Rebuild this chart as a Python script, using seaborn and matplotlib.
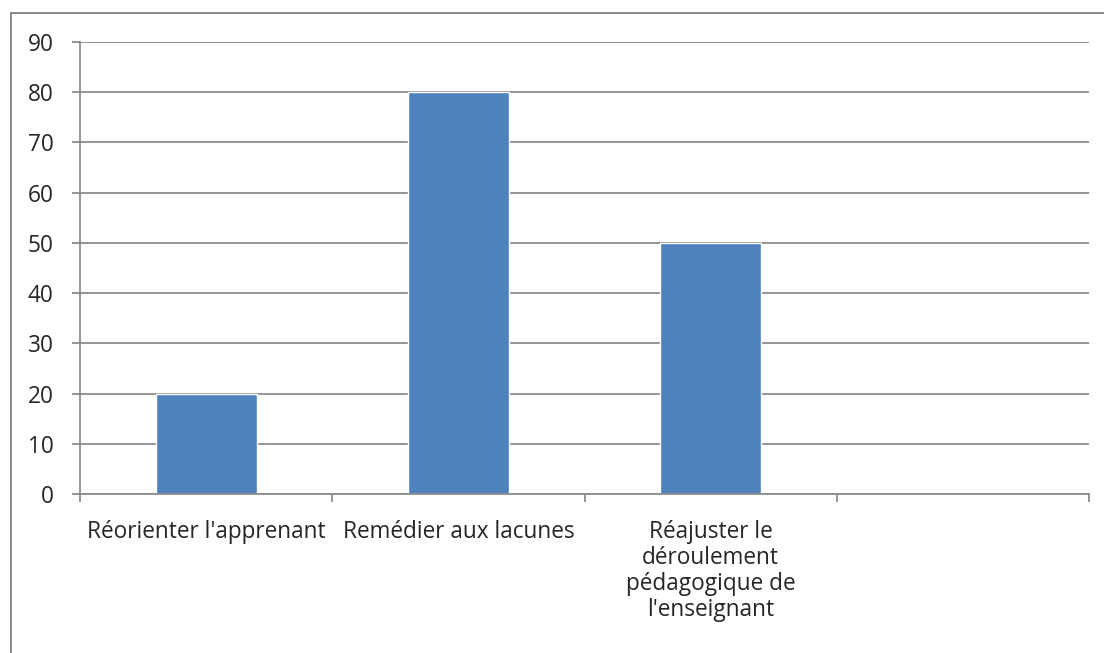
import numpy as np
import pandas as pd
import matplotlib
matplotlib.use("Agg")
import matplotlib.pyplot as plt
import seaborn as sns
from matplotlib.lines import Line2D

# Data
categories = ["Réorienter l'apprenant", "Remédier aux lacunes",
              "Réajuster le\ndéroulement\npédagogique de\nl'enseignant", ""]
values = [20, 80, 50, np.nan]
y_ticks = list(range(0, 100, 10))

df = pd.DataFrame({"cat": categories, "val": values})

sns.set_theme(style="white")
plt.rcParams['font.family'] = ['Open Sans', 'DejaVu Sans']

fig = plt.figure(figsize=(11.04, 6.53), dpi=100)
ax = fig.add_axes([80 / 1104, 1 - 494 / 653, (1089 - 80) / 1104, (494 - 42) / 653])

sns.barplot(data=df, x="cat", y="val", order=categories, color="#4F81BD",
            saturation=1, width=0.4, ax=ax)

grid_c = "#8C8C8C"
ax.set_xlim(-0.5, len(categories) - 0.5)
ax.set_ylim(0, 90)
ax.set_yticks(y_ticks)
ax.yaxis.grid(True, color=grid_c, linewidth=1.3)
ax.set_axisbelow(True)

# category boundaries as major ticks, labels at centres
ax.set_xticks(np.arange(-0.5, len(categories)))
ax.set_xticklabels([])
ax.set_xticks(np.arange(len(categories)), minor=True)
ax.set_xticklabels(categories, minor=True, fontsize=16.3, linespacing=1.1,
                   va="top", ha="center")
ax.tick_params(axis="x", which="minor", length=0, pad=19)
ax.tick_params(axis="x", which="major", length=6, width=1.3, color=grid_c,
               direction="out", bottom=True)
ax.tick_params(axis="y", length=6, width=1.3, color=grid_c, direction="out",
               left=True, labelsize=16.3, pad=13)

for s in ["top", "right"]:
    ax.spines[s].set_visible(False)
for s in ["left", "bottom"]:
    ax.spines[s].set_color(grid_c)
    ax.spines[s].set_linewidth(1.3)

ax.set_xlabel("")
ax.set_ylabel("")

# outer chart frame (left and top edges visible)
fx, fy = 11 / 1104, 1 - 13 / 653
fig.add_artist(Line2D([fx, fx], [0, fy], color="#7F7F7F", linewidth=1.3))
fig.add_artist(Line2D([fx, 1], [fy, fy], color="#7F7F7F", linewidth=1.3))

fig.savefig("out.png", dpi=100, facecolor="white")
